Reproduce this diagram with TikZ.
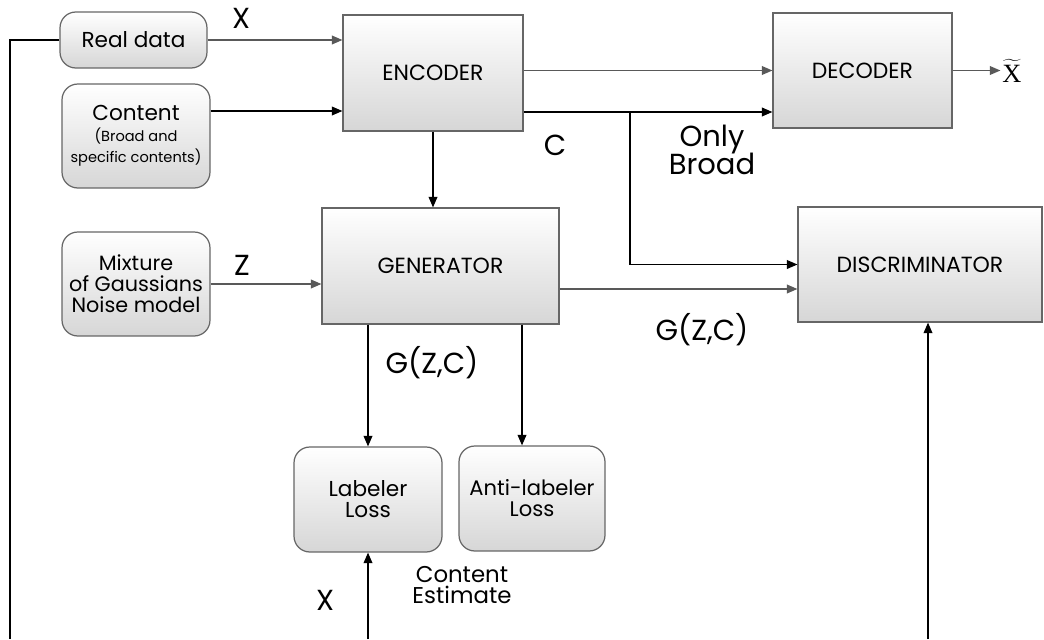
\documentclass[tikz,border=0pt]{standalone}
\usepackage{fontspec}
\setmainfont{Poppins}
\newfontfamily\xserif{Liberation Serif}
\usetikzlibrary{arrows.meta}

\begin{document}
\begin{tikzpicture}[x=0.02cm,y=-0.02cm,
  box/.style={draw=gray!80!black,line width=0.7pt,top color=white,bottom color=gray!32,
    align=center,inner sep=1pt,font=\fontsize{12.5}{15}\selectfont},
  rbox/.style={box,rounded corners=9pt,font=\fontsize{12.3}{15}\selectfont},
  garr/.style={-{Triangle[length=6pt,width=5pt]},line width=0.7pt,gray!70!black},
  barr/.style={-{Triangle[length=6pt,width=5pt]},line width=0.7pt,black},
  lbl/.style={font=\fontsize{16.5}{19}\selectfont}]
  \useasboundingbox (0,0) rectangle (1044,639);

  % inputs on the left
  \node[rbox,minimum width=2.94cm,minimum height=1.12cm] (real) at (133.5,40) {Real data};
  \node[rbox,minimum width=2.96cm,minimum height=2.08cm] (content) at (136,136)
    {Content\\[-3pt]{\fontsize{8.3}{9}\selectfont (Broad and}\\[-3pt]{\fontsize{8.3}{9}\selectfont specific contents)}};
  \node[rbox,minimum width=2.96cm,minimum height=2.08cm,font=\fontsize{11.8}{14}\selectfont] (mix) at (136,284)
    {Mixture\\[-2pt]of Gaussians\\[-2pt]Noise model};

  % main blocks
  \node[box,minimum width=3.6cm,minimum height=2.32cm] (enc) at (433,73) {ENCODER};
  \node[box,minimum width=3.58cm,minimum height=2.3cm] (dec) at (862.5,70.5) {DECODER};
  \node[box,minimum width=4.74cm,minimum height=2.32cm] (gen) at (440.5,266) {GENERATOR};
  \node[box,minimum width=4.88cm,minimum height=2.3cm] (disc) at (920,264.5) {DISCRIMINATOR};
  \node[rbox,minimum width=2.96cm,minimum height=2.1cm] (lab) at (368,499.5) {Labeler\\[-3pt]Loss};
  \node[rbox,minimum width=2.92cm,minimum height=2.1cm,font=\fontsize{12}{15}\selectfont] (anti) at (532,498.5) {Anti-labeler\\[-3pt]Loss};
  \node[inner sep=1pt] (xt) at (1012,71) {$\widetilde{\mbox{\xserif\fontsize{15}{17}\selectfont X}}$};

  \coordinate (lbot) at (10,639);
  \coordinate (bot) at (0,639);
  \coordinate (br) at (630,112);

  % connectors
  \draw[line width=0.7pt] (real.west) -| (lbot);
  \draw[garr] (real.east) -- (real.east -| enc.west);
  \draw[barr] ([yshift=5mm]content.east) coordinate (cin) -- (cin -| enc.west);
  \draw[garr] (mix.east) -- (mix.east -| gen.west);
  \draw[garr] (enc.east |- dec.west) -- (dec.west);
  \draw[barr] ([yshift=-7.8mm]enc.east) coordinate (cout) -- (cout -| dec.west);
  \draw[barr] (br) |- (disc.west);
  \draw[garr] ([yshift=-4.6mm]gen.east) coordinate (gout) -- (gout -| disc.west);
  \draw[barr] (enc.south) -- (enc.south |- gen.north);
  \draw[barr] (lab.north |- gen.south) -- (lab.north);
  \draw[barr] ([xshift=-2mm]anti.north |- gen.south) -- ([xshift=-2mm]anti.north);
  \draw[barr] (lab.south |- bot) -- (lab.south);
  \draw[barr] ([xshift=1.6mm]disc.south |- bot) -- ([xshift=1.6mm]disc.south);
  \draw[garr] (dec.east) -- (dec.east -| xt.west);

  % labels
  \node[lbl] (lx) at (241,18) {X};
  \node[lbl] (lc) at (555,145) {C};
  \node[lbl,align=center] (lbroad) at (712,150) {Only\\[-3pt]Broad};
  \node[lbl] (lz) at (242,265) {Z};
  \node[lbl] (lgzc) at (702,330) {G(Z,C)};
  \node[lbl] (lgzc2) at (432,363) {G(Z,C)};
  \node[lbl] (lx2) at (325,600) {X};
  \node[align=center,font=\fontsize{13}{15}\selectfont] (lest) at (462,585) {Content\\[-3pt]Estimate};
\end{tikzpicture}
\end{document}
